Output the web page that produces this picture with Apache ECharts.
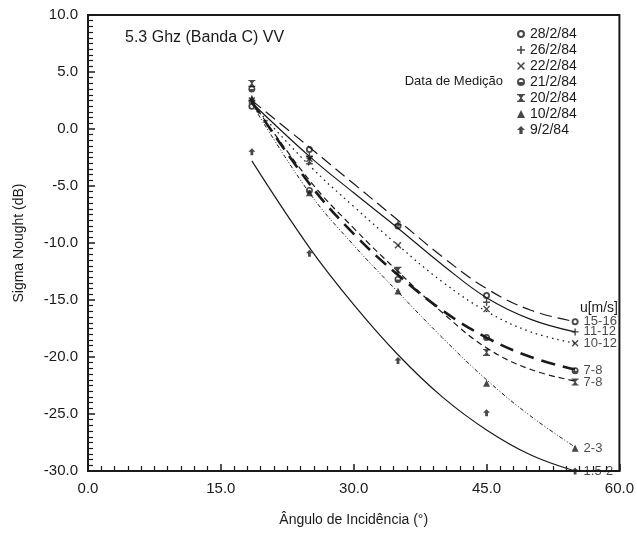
<!DOCTYPE html>
<html>

<head>
    <meta charset='utf-8'>
    <title>Sigma Nought x Ângulo</title>
    <script src='https://cdn.jsdelivr.net/npm/echarts@6/dist/echarts.min.js'></script>
    <style>
        body { margin: 0; background: #fff; }
        #chart { width: 637px; height: 540px; }
    </style>
</head>

<body>
    <div id='chart'></div>

    <script type='text/javascript'>
        // incidence angles of the measurements
        const angles = [18.5, 25, 35, 45, 55]
        const xTicks = ['0.0', '15.0', '30.0', '45.0', '60.0']
        const dates = ['28/2/84', '26/2/84', '22/2/84', '21/2/84', '20/2/84', '10/2/84', '9/2/84']
        const windSpeeds = ['15-16', '11-12', '10-12', '7-8', '7-8', '2-3', '1.5-2']

        // measured points (dB)
        const pts28 = [2.0, -1.8, -8.5, -14.6, -16.9]
        const pts26 = [2.5, -2.4, -8.4, -15.2, -17.8]
        const pts22 = [2.5, -2.6, -10.2, -15.8, -18.8]
        const pts21 = [3.5, -5.4, -13.2, -18.3, -21.2]
        const pts20 = [4.0, -2.8, -12.4, -19.6, -22.2]
        const pts10 = [2.7, -5.6, -14.2, -22.3, -28.0]
        const pts09 = [-2.0, -10.9, -20.3, -24.9, -30.0]

        // fitted curves
        const fitAngles = [18.5, 25, 30, 35, 40, 45, 50, 55]
        const fit28 = [2.5, -1.6, -4.8, -8.0, -11.2, -14.0, -15.9, -16.9]
        const fit26 = [2.3, -2.4, -5.6, -8.7, -11.9, -14.8, -16.7, -17.8]
        const fit22 = [2.2, -3.2, -6.8, -10.2, -13.4, -16.0, -17.8, -18.8]
        const fit21 = [2.4, -4.8, -9.2, -12.8, -15.9, -18.3, -20.0, -21.1]
        const fit20 = [2.4, -4.5, -8.7, -12.5, -16.1, -19.2, -21.1, -22.1]
        const fit10 = [2.2, -5.6, -10.2, -14.3, -18.3, -22.0, -25.2, -27.9]
        const fit09 = [-2.8, -10.4, -15.4, -19.8, -23.5, -26.4, -28.6, -30.0]

        const ink = '#1a1a1a'
        const font = 'Liberation Sans, Arial, sans-serif'

        const symbols = [
            'path://M5 0A5 5 0 1 1 4.99 0ZM5 2.6A2.4 2.4 0 1 0 5.01 2.6Z',
            'path://M4 0H6V4H10V6H6V10H4V6H0V4H4Z',
            'path://M1.4 0L5 3.6L8.6 0L10 1.4L6.4 5L10 8.6L8.6 10L5 6.4L1.4 10L0 8.6L3.6 5L0 1.4Z',
            'path://M5 0A5 5 0 1 1 4.99 0ZM5 2.2A2.8 2.8 0 0 0 2.2 5H7.8A2.8 2.8 0 0 0 5 2.2Z',
            'path://M0 0H10V1.6H8.4L5.9 5L8.4 8.4H10V10H0V8.4H1.6L4.1 5L1.6 1.6H0Z',
            'triangle',
            'path://M5 0L10 5H7V10H3V5H0Z'
        ]
        const lineStyles = [
            { width: 1.2, type: [12, 6] },
            { width: 1.2, type: 'solid' },
            { width: 1.3, type: [1.5, 4] },
            { width: 2.6, type: [14, 8] },
            { width: 1.2, type: [6, 4] },
            { width: 1, type: [4, 2, 1, 2, 1, 2] },
            { width: 1.2, type: 'solid' }
        ]
        const pointSets = [pts28, pts26, pts22, pts21, pts20, pts10, pts09]
        const fitSets = [fit28, fit26, fit22, fit21, fit20, fit10, fit09]

        const series = []
        fitSets.forEach((fit, i) => {
            series.push({
                name: 'ajuste ' + dates[i],
                type: 'line',
                smooth: 0.4,
                showSymbol: false,
                silent: true,
                data: fitAngles.map((a, k) => [a, fit[k]]),
                lineStyle: Object.assign({ color: ink }, lineStyles[i]),
                z: 2
            })
        })
        pointSets.forEach((pts, i) => {
            series.push({
                name: dates[i],
                type: 'scatter',
                symbol: symbols[i],
                symbolSize: 7,
                itemStyle: { color: ink },
                data: angles.map((a, k) => {
                    const item = { value: [a, pts[k]] }
                    if (k === angles.length - 1) {
                        item.label = {
                            show: true,
                            position: 'right',
                            distance: 5,
                            formatter: windSpeeds[i],
                            color: ink,
                            fontFamily: font,
                            fontSize: 13
                        }
                    }
                    return item
                }),
                z: 5
            })
        })

        const chart = echarts.init(document.getElementById('chart'))
        const option = {
            backgroundColor: '#fff',
            animation: false,
            textStyle: { fontFamily: font, color: ink },
            grid: {
                left: 88, right: 17, top: 15, bottom: 69,
                show: true, borderColor: ink, borderWidth: 2
            },
            legend: {
                data: dates,
                orient: 'vertical',
                left: 512,
                top: 21,
                itemWidth: 8,
                itemHeight: 8,
                itemGap: 0,
                textStyle: { fontSize: 14, lineHeight: 16, color: ink, fontFamily: font },
                selectedMode: false
            },
            graphic: [
                {
                    type: 'text', left: 125, top: 30,
                    style: { text: '5.3 Ghz (Banda C) VV', fontSize: 16, fontFamily: font, fill: ink }
                },
                {
                    type: 'text', x: 503, y: 81,
                    style: { text: 'Data de Medição', fontSize: 13, fontFamily: font, fill: ink, align: 'right', verticalAlign: 'middle' }
                },
                {
                    type: 'text', x: 618, y: 308,
                    style: { text: 'u[m/s]', fontSize: 14, fontFamily: font, fill: ink, align: 'right', verticalAlign: 'middle' }
                }
            ],
            xAxis: {
                type: 'value',
                min: 0,
                max: 60,
                interval: 15,
                name: 'Ângulo de Incidência (°)',
                nameLocation: 'middle',
                nameGap: 42,
                nameTextStyle: { fontSize: 14, color: ink },
                axisLine: { onZero: false, lineStyle: { color: ink, width: 2 } },
                axisTick: { inside: true, length: 7, lineStyle: { color: ink, width: 1.5 } },
                minorTick: { show: true, splitNumber: 10, length: 5, lineStyle: { color: ink, width: 1.2 } },
                axisLabel: {
                    fontSize: 15, color: ink, margin: 10,
                    formatter: v => xTicks[Math.round(v / 15)]
                },
                splitLine: { show: false }
            },
            yAxis: {
                type: 'value',
                min: -30,
                max: 10,
                interval: 5,
                name: 'Sigma Nought (dB)',
                nameLocation: 'middle',
                nameGap: 62,
                nameTextStyle: { fontSize: 14, color: ink },
                axisLine: { onZero: false, lineStyle: { color: ink, width: 2 } },
                axisTick: { inside: true, length: 7, lineStyle: { color: ink, width: 1.5 } },
                minorTick: { show: true, splitNumber: 10, length: 5, lineStyle: { color: ink, width: 1.2 } },
                axisLabel: {
                    fontSize: 15, color: ink, margin: 10,
                    formatter: v => v.toFixed(1)
                },
                splitLine: { show: false }
            },
            series: series
        }
        chart.setOption(option)
    </script>
</body>

</html>
